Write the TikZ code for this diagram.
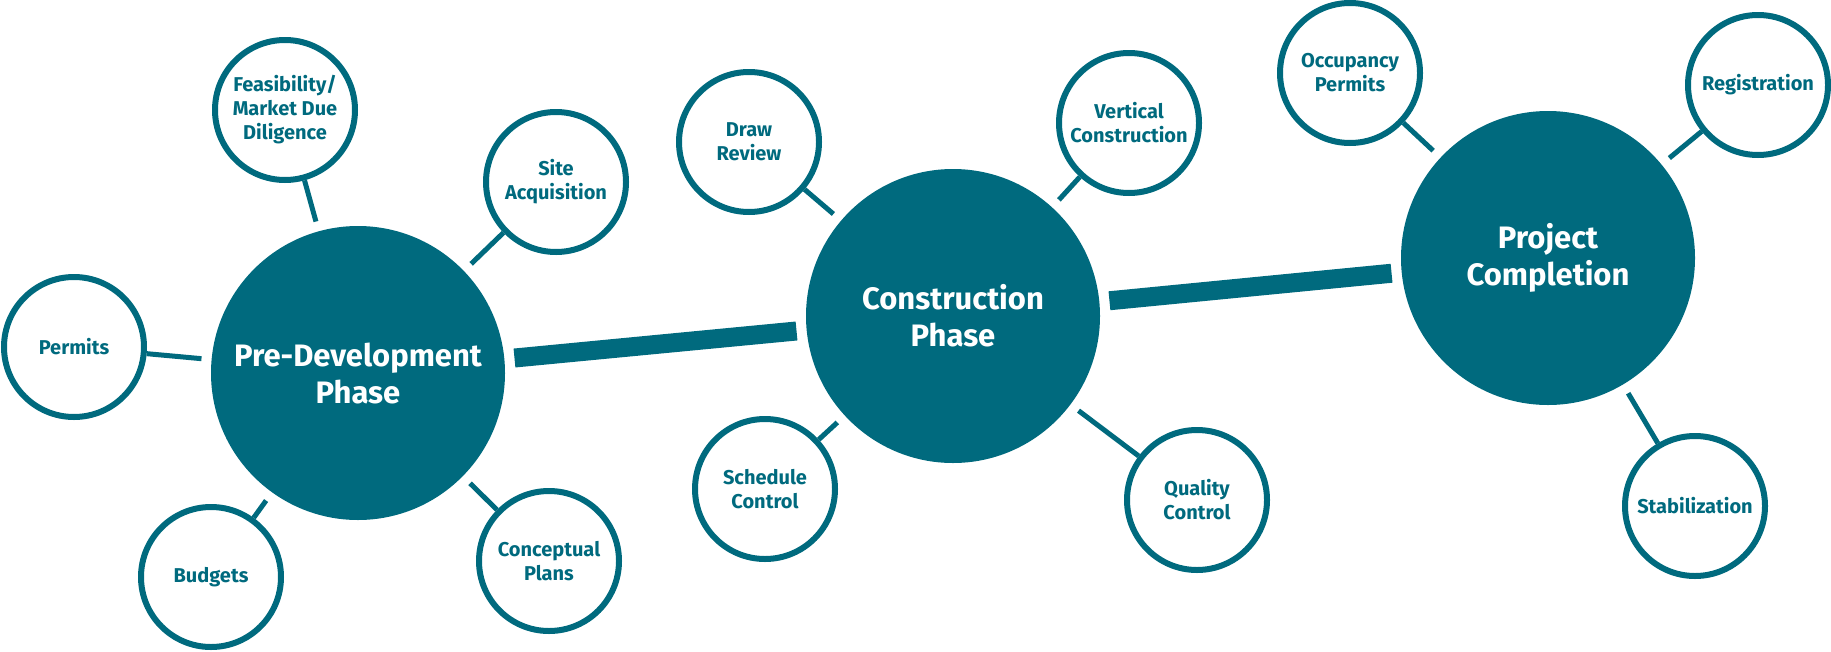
\documentclass[tikz,border=0pt]{standalone}
\usepackage{fontspec}
\setmainfont{Fira Sans}
\definecolor{deepteal}{RGB}{0,106,126}
\newcommand{\hubfont}{\fontsize{31}{37}\selectfont\bfseries}
\newcommand{\leaffont}{\fontsize{20}{24}\selectfont\bfseries}
\tikzset{
  hub/.style={circle,fill=deepteal,minimum size=294pt,text=white,font=\hubfont,align=center},
  leaf/.style={circle,draw=deepteal,line width=6pt,minimum size=140pt,text=deepteal,font=\leaffont,align=center},
  link/.style={deepteal,line width=5pt,shorten >=10pt},
  spine/.style={deepteal,line width=19pt,shorten <=10pt,shorten >=10pt}
}
\begin{document}
\begin{tikzpicture}[x=1pt,y=-1pt,inner sep=0pt]
\useasboundingbox (0,0) rectangle (1831,651);

\node[hub] (pre) at (358,373) {Pre-Development\\Phase};
\node[hub] (build) at (953,316) {Construction\\Phase};
\node[hub] (done) at (1548,258) {Project\\Completion};

\node[leaf] (feas) at (285,110) {Feasibility/\\Market Due\\Diligence};
\node[leaf] (site) at (556,182) {Site\\Acquisition};
\node[leaf] (permits) at (74,347) {Permits};
\node[leaf] (budgets) at (211,577) {Budgets};
\node[leaf] (plans) at (549,561) {Conceptual\\Plans};

\node[leaf] (draw) at (749,142) {Draw\\Review};
\node[leaf] (vert) at (1129,123) {Vertical\\Construction};
\node[leaf] (sched) at (765,489) {Schedule\\Control};
\node[leaf] (quality) at (1197,500) {Quality\\Control};

\node[leaf] (occ) at (1350,73) {Occupancy\\Permits};
\node[leaf] (reg) at (1758,85) {Registration};
\node[leaf] (stab) at (1695,506) {Stabilization};

\draw[spine] (pre) -- (build);
\draw[spine] (build) -- (done);

\draw[link] (feas) -- (pre);
\draw[link] (site) -- (pre);
\draw[link] (permits) -- (pre);
\draw[link] (budgets) -- (pre);
\draw[link] (plans) -- (pre);

\draw[link] (draw) -- (build);
\draw[link] (vert) -- (build);
\draw[link] (sched) -- (build);
\draw[link] (quality) -- (build);

\draw[link] (occ) -- (done);
\draw[link] (reg) -- (done);
\draw[link] (stab) -- (done);

\end{tikzpicture}
\end{document}
